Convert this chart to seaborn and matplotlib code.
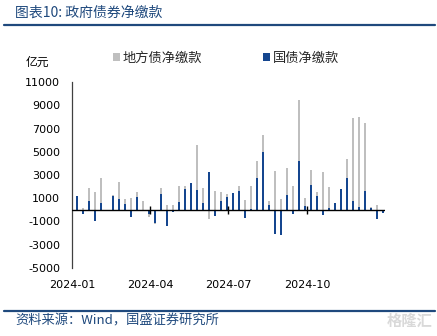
import numpy as np
import pandas as pd
import matplotlib
matplotlib.use("Agg")
import matplotlib.pyplot as plt
import matplotlib.dates as mdates
from matplotlib.lines import Line2D
import seaborn as sns

# ---- data (亿元, weekly) ----
weeks = pd.date_range("2024-01-07", periods=52, freq="7D")
local_net = [1100, 150, 1850, 1530, 2740, 0, 1270, 2420, 920, 1010,
             1530, 780, -660, -1250, 1850, 400, 400, 2050, 2050, -100,
             5570, 1900, -800, 1640, 1560, 1360, 1400, 2050, 840, 2050,
             4210, 6490, 780, 3370, 920, 3580, 2050, 9430, 1010, 3430,
             1500, 3290, 1930, 550, 1750, 4380, 7930, 7990, 7500, 260,
             430, -150]
treasury_net = [1200, -380, 780, -1010, 550, 0, 1150, 900, 460, -600,
                1120, -100, -375, -1100, 1380, -1380, -200, 660, 1760, 2340,
                1700, 580, 3290, -520, 750, 1070, 1470, 1640, -750, 50,
                2710, 4990, 375, -2100, -2160, 1300, -375, 4180, 300, 2130,
                1210, -460, 150, 600, 1790, 2770, 780, 200, 1640, 150,
                -810, -320]
series_labels = ["地方债净缴款", "国债净缴款"]
tick_dates = ["2024-01-01", "2024-04-01", "2024-07-01", "2024-10-01"]
tick_labels = ["2024-01", "2024-04", "2024-07", "2024-10"]
y_ticks = list(range(-5000, 11001, 2000))

sns.set_style("white")
plt.rcParams["font.family"] = ["DejaVu Sans", "Noto Sans CJK SC"]
plt.rcParams["axes.unicode_minus"] = False
cjk = ["Noto Sans CJK SC", "DejaVu Sans"]

GREY = "#BFBFBF"
BLUE = "#15468F"
DARKBLUE = "#1F497D"

fig = plt.figure(figsize=(4.37, 3.36), dpi=100)
ax = fig.add_axes([72 / 437, 1 - 267.7 / 336, 313 / 437, 185.4 / 336])

df = pd.DataFrame({"date": mdates.date2num(weeks),
                   "local": local_net, "treasury": treasury_net})
sns.barplot(data=df, x="date", y="local", native_scale=True, orient="x",
            color=GREY, saturation=1, width=0.36, linewidth=0,
            errorbar=None, ax=ax, label=series_labels[0])
sns.barplot(data=df, x="date", y="treasury", native_scale=True, orient="x",
            color=BLUE, saturation=1, width=0.36, linewidth=0,
            errorbar=None, ax=ax, label=series_labels[1])

tick_nums = mdates.date2num(pd.to_datetime(tick_dates))
ax.set_xlim(mdates.date2num(pd.Timestamp("2024-01-01")),
            mdates.date2num(pd.Timestamp("2024-12-31")))
ax.set_ylim(-5000, 11000)
ax.set_yticks(y_ticks)
ax.set_xticks(tick_nums, labels=tick_labels)
ax.set_xlabel("")
ax.set_ylabel("")

for s in ["top", "right", "bottom"]:
    ax.spines[s].set_visible(False)
ax.spines["left"].set_color("#404040")
ax.spines["left"].set_linewidth(0.9)

ax.tick_params(axis="y", direction="in", length=4, width=0.9,
               color="#404040", pad=8.5, labelsize=8, labelcolor="black")
ax.tick_params(axis="x", length=0, pad=8.5, labelsize=8, labelcolor="black")

ax.axhline(0, color="black", lw=1, zorder=3)
ax.vlines(tick_nums[1:], -350, 350, colors="black", lw=1, zorder=3)

handles = [c for c in ax.containers]
ax.legend(handles, series_labels, ncol=2, loc="center left",
          bbox_to_anchor=(113 / 437, 1 - 58.3 / 336),
          bbox_transform=fig.transFigure, frameon=False,
          prop={"family": cjk, "size": 9.5}, handlelength=0.55,
          handleheight=0.55, handletextpad=0.2, columnspacing=4.6,
          borderpad=0, borderaxespad=0)

fig.text(26 / 437, 1 - 62.7 / 336, "亿元", family=cjk, fontsize=8.5,
         va="center", ha="left", color="black")

fig.text(15 / 437, 1 - 13 / 336, "图表10: 政府债券净缴款", family=cjk,
         fontsize=10, color=DARKBLUE, va="center", ha="left", style="italic")
fig.add_artist(Line2D([4 / 437, 435 / 437], [1 - 25 / 336, 1 - 25 / 336],
                      color=DARKBLUE, lw=1.6, transform=fig.transFigure))
fig.add_artist(Line2D([4 / 437, 435 / 437], [1 - 311 / 336, 1 - 311 / 336],
                      color=DARKBLUE, lw=1.6, transform=fig.transFigure))
fig.text(15 / 437, 1 - 321 / 336, "资料来源：Wind，国盛证券研究所", family=cjk,
         fontsize=9.5, color=DARKBLUE, va="center", ha="left", style="italic")
fig.text(432 / 437, 1 - 321 / 336, "格隆汇", family=cjk, fontsize=11,
         color="#D9D9D9", va="center", ha="right", fontweight="bold")

fig.savefig("out.png", dpi=100)
